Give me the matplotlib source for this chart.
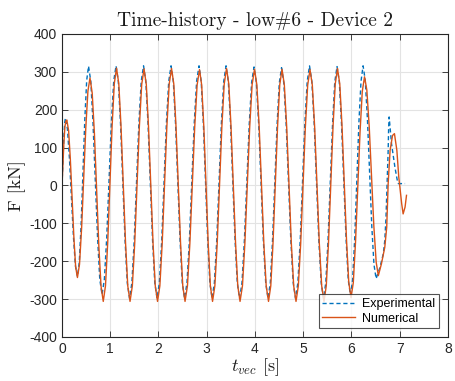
import matplotlib
matplotlib.use("Agg")
import matplotlib.pyplot as plt

plt.rcParams.update({
    "font.family": ["Liberation Sans", "DejaVu Sans"],
    "mathtext.fontset": "cm",
    "axes.unicode_minus": False,
})

BLUE = "#0072BD"
ORANGE = "#D95319"
AXCOL = "#262626"

# Experimental (one row per half cycle)
t_exp = [
    0.00, 0.02, 0.04, 0.055,
    0.07, 0.112, 0.153, 0.195, 0.237, 0.278,
    0.32, 0.358, 0.397, 0.435, 0.473, 0.512,
    0.55, 0.597, 0.643, 0.69, 0.737, 0.783,
    0.83, 0.878, 0.927, 0.975, 1.023, 1.072,
    1.12, 1.167, 1.213, 1.26, 1.307, 1.353,
    1.40, 1.448, 1.497, 1.545, 1.593, 1.642,
    1.69, 1.737, 1.783, 1.83, 1.877, 1.923,
    1.97, 2.018, 2.067, 2.115, 2.163, 2.212,
    2.26, 2.307, 2.353, 2.40, 2.447, 2.493,
    2.54, 2.59, 2.64, 2.69, 2.74, 2.79,
    2.84, 2.885, 2.93, 2.975, 3.02, 3.065,
    3.11, 3.158, 3.207, 3.255, 3.303, 3.352,
    3.40, 3.447, 3.493, 3.54, 3.587, 3.633,
    3.68, 3.73, 3.78, 3.83, 3.88, 3.93,
    3.98, 4.028, 4.077, 4.125, 4.173, 4.222,
    4.27, 4.317, 4.363, 4.41, 4.457, 4.503,
    4.55, 4.598, 4.647, 4.695, 4.743, 4.792,
    4.84, 4.888, 4.937, 4.985, 5.033, 5.082,
    5.13, 5.178, 5.227, 5.275, 5.323, 5.372,
    5.42, 5.467, 5.513, 5.56, 5.607, 5.653,
    5.70, 5.747, 5.793, 5.84, 5.887, 5.933,
    5.98, 6.023, 6.067, 6.11, 6.153, 6.197,
    6.24, 6.285, 6.33, 6.375, 6.42, 6.465,
    6.51, 6.59, 6.66, 6.69, 6.715, 6.735, 6.76, 6.77,
    6.78, 6.83, 6.90, 6.95, 6.97, 7.11,
]
f_exp = [
    0, 70, 130, 165,
    178, 150, 74, -31, -135, -212,
    -240, -203, -101, 38, 176, 278,
    315, 275, 164, 14, -137, -248,
    -288, -248, -137, 14, 165, 276,
    316, 275, 163, 9, -145, -257,
    -298, -257, -145, 9, 163, 275,
    316, 275, 163, 9, -145, -257,
    -298, -257, -145, 9, 163, 275,
    316, 275, 163, 9, -145, -257,
    -298, -257, -145, 9, 163, 275,
    316, 275, 163, 9, -145, -257,
    -298, -257, -145, 9, 163, 275,
    316, 275, 163, 9, -145, -257,
    -298, -257, -145, 8, 160, 272,
    313, 272, 160, 8, -145, -257,
    -298, -257, -146, 7, 159, 270,
    311, 270, 159, 7, -146, -257,
    -298, -257, -145, 9, 163, 275,
    316, 275, 163, 9, -145, -257,
    -298, -257, -145, 8, 161, 273,
    314, 274, 163, 12, -139, -250,
    -290, -249, -139, 13, 165, 275,
    316, 278, 176, 35, -106, -208,
    -246, -216, -180, -145, -84, -4, 93, 154,
    181, 110, 48, 13, 5, 5,
]

# Numerical
t_num = [
    0.00, 0.02, 0.04, 0.06, 0.08,
    0.10, 0.137, 0.173, 0.21, 0.247, 0.283,
    0.32, 0.363, 0.407, 0.45, 0.493, 0.537,
    0.58, 0.626, 0.672, 0.718, 0.763, 0.809,
    0.855, 0.901, 0.947, 0.993, 1.038, 1.084,
    1.13, 1.177, 1.223, 1.27, 1.317, 1.363,
    1.41, 1.458, 1.507, 1.555, 1.603, 1.652,
    1.70, 1.747, 1.793, 1.84, 1.887, 1.933,
    1.98, 2.028, 2.077, 2.125, 2.173, 2.222,
    2.27, 2.317, 2.363, 2.41, 2.457, 2.503,
    2.55, 2.60, 2.65, 2.70, 2.75, 2.80,
    2.85, 2.895, 2.94, 2.985, 3.03, 3.075,
    3.12, 3.168, 3.217, 3.265, 3.313, 3.362,
    3.41, 3.457, 3.503, 3.55, 3.597, 3.643,
    3.69, 3.74, 3.79, 3.84, 3.89, 3.94,
    3.99, 4.038, 4.087, 4.135, 4.183, 4.232,
    4.28, 4.327, 4.373, 4.42, 4.467, 4.513,
    4.56, 4.608, 4.657, 4.705, 4.753, 4.802,
    4.85, 4.898, 4.947, 4.995, 5.043, 5.092,
    5.14, 5.188, 5.237, 5.285, 5.333, 5.382,
    5.43, 5.477, 5.523, 5.57, 5.617, 5.663,
    5.71, 5.757, 5.803, 5.85, 5.897, 5.943,
    5.99, 6.037, 6.083, 6.13, 6.177, 6.223,
    6.27, 6.318, 6.367, 6.415, 6.463, 6.512,
    6.556, 6.62, 6.69, 6.73, 6.76, 6.80, 6.85,
    6.89, 6.94, 6.98, 7.04, 7.07, 7.11, 7.14,
]
f_num = [
    0, 60, 115, 155, 170,
    173, 145, 69, -35, -139, -215,
    -243, -208, -111, 20, 152, 249,
    284, 244, 137, -11, -159, -266,
    -306, -265, -152, 2, 156, 269,
    310, 269, 156, 2, -152, -265,
    -306, -265, -153, 1, 155, 267,
    308, 267, 155, 1, -153, -265,
    -306, -265, -152, 2, 155, 268,
    309, 268, 155, 2, -152, -265,
    -306, -265, -153, 0, 153, 265,
    306, 265, 153, 0, -153, -265,
    -306, -265, -152, 2, 155, 268,
    309, 268, 155, 2, -152, -265,
    -306, -265, -153, 0, 154, 266,
    307, 266, 154, 0, -153, -265,
    -306, -265, -153, 0, 154, 266,
    307, 266, 154, 0, -153, -265,
    -306, -265, -153, 0, 153, 265,
    306, 265, 153, 0, -153, -265,
    -306, -265, -152, 2, 155, 268,
    309, 268, 158, 6, -145, -255,
    -296, -257, -150, -4, 141, 248,
    287, 252, 156, 24, -107, -203,
    -238, -207, -163, -110, 5, 93, 132,
    137, 93, 22, -48, -75, -57, -26,
]

x_ticks = list(range(0, 9))
y_ticks = list(range(-400, 401, 100))

fig = plt.figure(figsize=(4.56, 3.81), dpi=100)
ax = fig.add_axes([62 / 456, 1 - 337 / 381, 386 / 456, 303 / 381])

ax.plot(t_exp, f_exp, color=BLUE, lw=1.0, dashes=(3, 2), label="Experimental")
ax.plot(t_num, f_num, "-", color=ORANGE, lw=1.0, label="Numerical")

ax.set_xlim(0, 8)
ax.set_ylim(-400, 400)
ax.set_xticks(x_ticks)
ax.set_yticks(y_ticks)
ax.grid(True, color="#e3e3e3", lw=0.8)
ax.set_axisbelow(True)
for s in ax.spines.values():
    s.set_color(AXCOL)
    s.set_linewidth(0.8)
ax.tick_params(direction="in", top=True, right=True, length=4, width=0.6,
               colors=AXCOL, labelsize=10, labelcolor=AXCOL)

ax.set_title("Time-history - low#6 - Device 2", fontfamily="cmr10", fontsize=14,
             color="#1a1a1a", pad=6)
ax.set_ylabel("F [kN]", fontfamily="cmr10", fontsize=13, color="#1a1a1a", labelpad=2)
ax.set_xlabel(r"$t_{vec}$ [s]", fontfamily="cmr10", fontsize=13, color="#1a1a1a", labelpad=0)

leg = ax.legend(loc="lower right", fontsize=9, frameon=True, fancybox=False,
                borderaxespad=0.7, handlelength=2.6, handletextpad=0.6,
                borderpad=0.3, labelspacing=0.2)
leg.get_frame().set_edgecolor(AXCOL)
leg.get_frame().set_linewidth(0.8)

fig.savefig("out.png", dpi=100)
